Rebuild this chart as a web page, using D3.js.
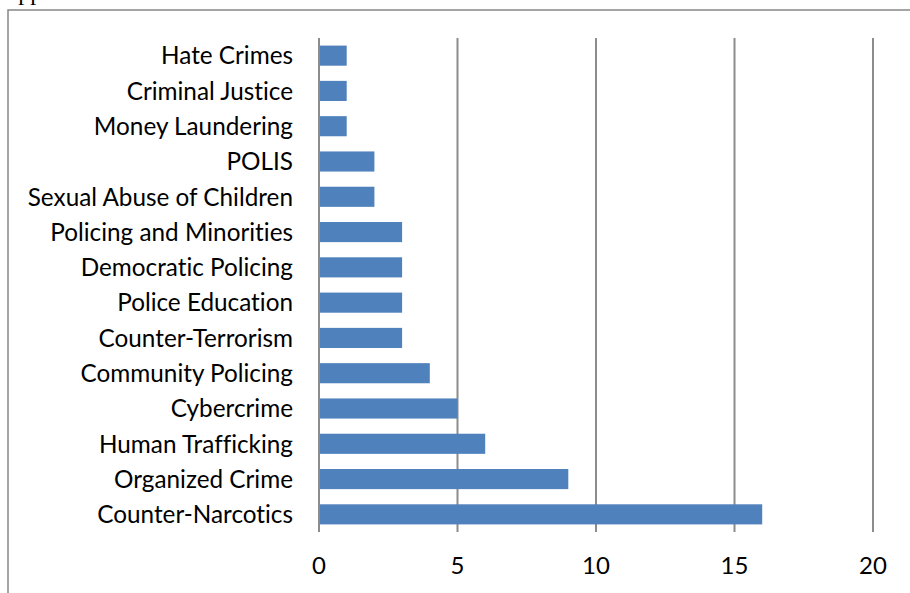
<!DOCTYPE html>
<html><head><meta charset="utf-8">
<script src="https://cdn.jsdelivr.net/npm/d3@7"></script>
<style>body{margin:0;background:#fff;overflow:hidden} text{font-variant-ligatures:none}</style>
</head><body>
<svg id="c" width="910" height="593"></svg>
<script>
const categories = ["Hate Crimes","Criminal Justice","Money Laundering","POLIS","Sexual Abuse of Children","Policing and Minorities","Democratic Policing","Police Education","Counter-Terrorism","Community Policing","Cybercrime","Human Trafficking","Organized Crime","Counter-Narcotics"];
const values = [1,1,1,2,2,3,3,3,3,4,5,6,9,16];
const ticks = [0,5,10,15,20];

const svg = d3.select("#c");
const x = d3.scaleLinear().domain([0,20]).range([319,873]);
const y = d3.scaleBand().domain(categories).range([38,532]).paddingInner(0.43).paddingOuter(0.215);
const font = "Lato, 'Open Sans', sans-serif";

// clipped heading text above frame (only descenders visible in reference)
svg.append("text").attr("x",1).attr("y",0).attr("font-family","'Liberation Serif', serif").attr("font-size",24).attr("fill","#000").text("Appendix");

// frame
svg.append("path").attr("d","M8,593 V10 H910").attr("fill","none").attr("stroke","#878787").attr("stroke-width",1.5);

// gridlines
svg.append("g").selectAll("line").data(ticks).join("line")
  .attr("x1",d=>x(d)).attr("x2",d=>x(d)).attr("y1",38).attr("y2",532)
  .attr("stroke","#8c8c8c").attr("stroke-width",2);

// bars
svg.append("g").selectAll("rect").data(values).join("rect")
  .attr("x",x(0)+1).attr("y",(d,i)=>y(categories[i]))
  .attr("width",d=>x(d)-x(0)-1).attr("height",y.bandwidth())
  .attr("fill","#4f81bd");

// category labels
svg.append("g").selectAll("text").data(categories).join("text")
  .attr("x",293).attr("y",d=>y(d)+y.bandwidth()/2).attr("dy","0.36em")
  .attr("text-anchor","end").attr("font-family",font).attr("font-size",24.3).attr("fill","#000")
  .text(d=>d);

// tick labels
svg.append("g").selectAll("text").data(ticks).join("text")
  .attr("x",d=>x(d)).attr("y",565).attr("dy","0.36em")
  .attr("text-anchor","middle").attr("font-family",font).attr("font-size",24).attr("fill","#000")
  .text(d=>d);
</script>
</body></html>
